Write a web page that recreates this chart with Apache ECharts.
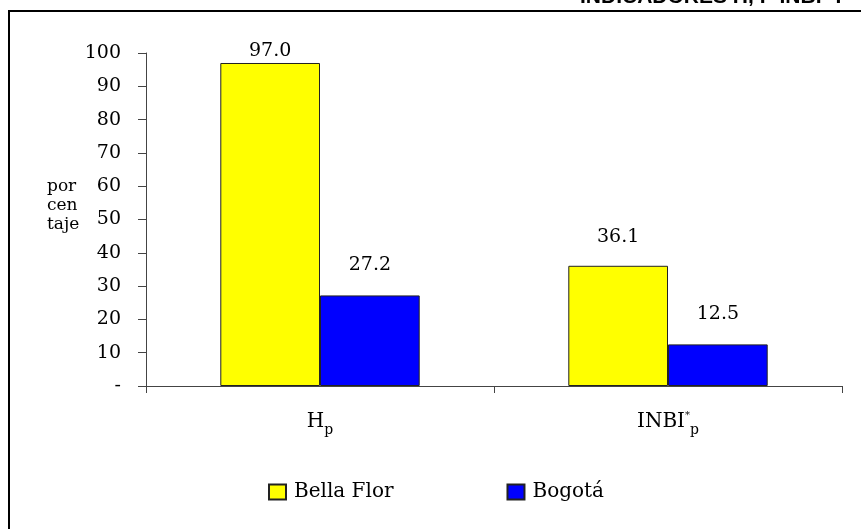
<!DOCTYPE html>
<html>
<head>
<meta charset="utf-8">
<script src="https://cdn.jsdelivr.net/npm/echarts@6/dist/echarts.min.js"></script>
<style>
html,body{margin:0;padding:0;background:#fff;}
#c{width:861px;height:529px;}
</style>
</head>
<body>
<div id="c"></div>
<script>
var categories = ['H_p', 'INBI*_p'];
var seriesNames = ['Bella Flor', 'Bogotá'];
var bellaFlor = [97.0, 36.1];
var bogota = [27.2, 12.5];
var yTitle = 'por\ncen\ntaje';
var titleText = 'INDICADORES H, P INBI* P';

var serif = 'DejaVu Serif';
var chart = echarts.init(document.getElementById('c'));

function mkData(vals, dists) {
  return vals.map(function (v, i) {
    return { value: v, label: { distance: dists[i] } };
  });
}

chart.setOption({
  backgroundColor: '#fff',
  animation: false,
  grid: { left: 146, right: 19, top: 53, bottom: 143, containLabel: false },
  legend: {
    left: 268, top: 482, padding: 0,
    itemWidth: 17, itemHeight: 15, itemGap: 113,
    icon: 'rect',
    textStyle: { fontFamily: serif, fontSize: 20, color: '#000', padding: [0, 0, 0, 3] },
    data: seriesNames
  },
  xAxis: {
    type: 'category',
    data: categories,
    axisLine: { lineStyle: { color: '#444', width: 1 } },
    axisTick: { show: true, length: 7, lineStyle: { color: '#444' } },
    axisLabel: {
      margin: 21,
      formatter: function (v) {
        if (v === 'H_p') return '{m|H}{s|p}';
        return '{m|INBI}{u|*}{s|p}';
      },
      rich: {
        m: { fontFamily: serif, fontSize: 20, color: '#000', lineHeight: 30, verticalAlign: 'middle' },
        s: { fontFamily: serif, fontSize: 14, color: '#000', lineHeight: 30, verticalAlign: 'bottom' },
        u: { fontFamily: serif, fontSize: 10, color: '#000', lineHeight: 30, verticalAlign: 'top', padding: [3, 0, 0, 0] }
      }
    }
  },
  yAxis: {
    type: 'value',
    min: 0, max: 100, interval: 10,
    splitLine: { show: false },
    axisLine: { show: true, lineStyle: { color: '#444', width: 1 } },
    axisTick: { show: true, length: 8, lineStyle: { color: '#444' } },
    axisLabel: {
      margin: 25,
      fontFamily: serif, fontSize: 19, color: '#000',
      formatter: function (v) { return v === 0 ? '-' : String(v); }
    }
  },
  series: [
    {
      name: seriesNames[0], type: 'bar',
      data: mkData(bellaFlor, [2, 19]),
      barGap: '0%', barCategoryGap: '42.7%',
      itemStyle: { color: '#FFFF00', borderColor: '#222', borderWidth: 1 },
      label: { show: true, position: 'top', fontFamily: serif, fontSize: 19, color: '#000',
        formatter: function (p) { return p.value.toFixed(1); } }
    },
    {
      name: seriesNames[1], type: 'bar',
      data: mkData(bogota, [21, 21]),
      barGap: '0%', barCategoryGap: '42.7%',
      itemStyle: { color: '#0000FF', borderColor: '#222', borderWidth: 1 },
      label: { show: true, position: 'top', fontFamily: serif, fontSize: 19, color: '#000',
        formatter: function (p) { return p.value.toFixed(1); } }
    }
  ],
  graphic: [
    { type: 'rect', shape: { x: 9, y: 11, width: 1000, height: 800 },
      style: { fill: 'none', stroke: '#000', lineWidth: 2 }, z: 100, silent: true },
    { type: 'text', left: 47, top: 177,
      style: { text: yTitle, fontFamily: serif, fontSize: 17, lineHeight: 19, fill: '#000' } },
    { type: 'text', left: 580, top: -13,
      style: { text: titleText, fontFamily: 'Liberation Sans', fontWeight: 'bold', fontSize: 21, fill: '#000' } }
  ]
});
</script>
</body>
</html>
